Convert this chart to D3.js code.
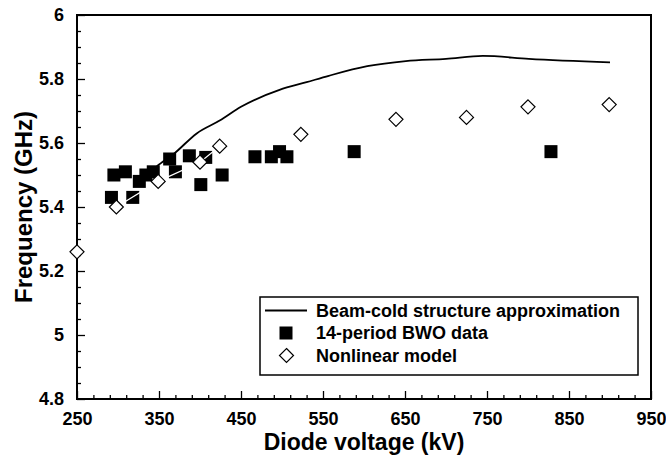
<!DOCTYPE html>
<html>
<head>
<meta charset="utf-8">
<script src="https://cdn.jsdelivr.net/npm/d3@7"></script>
<style>
  html, body { margin: 0; padding: 0; background: #fff; }
  svg { display: block; font-family: "Liberation Sans", Arial, Helvetica, sans-serif; font-weight: bold; }
</style>
</head>
<body>
<svg id="chart" width="666" height="464"></svg>
<script>
// ---- data ----
const xTicks = [250, 350, 450, 550, 650, 750, 850, 950];
const yTicks = [4.8, 5.0, 5.2, 5.4, 5.6, 5.8, 6.0];

// Beam-cold structure approximation (curve)
const curveV = [340, 347, 369, 396, 424, 450, 497, 530, 557, 604, 651, 700, 745, 801, 900];
const curveF = [5.51, 5.526, 5.568, 5.63, 5.67, 5.713, 5.766, 5.79, 5.81, 5.84, 5.856, 5.863, 5.872, 5.863, 5.852];

// 14-period BWO data (filled squares)
const bwoV = [292, 295, 309, 318, 326, 334, 343, 363, 370, 387, 401, 407, 427, 467, 487, 497, 506, 588, 828];
const bwoF = [5.43, 5.50, 5.51, 5.43, 5.48, 5.50, 5.51, 5.55, 5.51, 5.56, 5.47, 5.555, 5.50, 5.557, 5.557, 5.573, 5.557, 5.573, 5.573];

// Nonlinear model (open diamonds)
const nlV = [250, 298, 349, 400, 424, 523, 639, 725, 800, 899];
const nlF = [5.26, 5.40, 5.48, 5.54, 5.59, 5.627, 5.674, 5.68, 5.713, 5.72];

const legendLabels = ["Beam-cold structure approximation", "14-period BWO data", "Nonlinear model"];

// ---- layout ----
const svg = d3.select("#chart");
const L = 77, R = 651, T = 15, B = 399;
const x = d3.scaleLinear().domain([250, 950]).range([L, R]);
const y = d3.scaleLinear().domain([4.8, 6.0]).range([B, T]);

// minor ticks
const xMinor = d3.range(250, 951, 20).filter(v => (v - 250) % 100 !== 0);
const yMinor = d3.range(0, 25).map(i => +(4.8 + i * 0.05).toFixed(2)).filter(v => Math.round(v * 100) % 20 !== 0);

// x axis (ticks pointing inward)
const gx = svg.append("g").attr("transform", `translate(0,${B})`);
gx.call(d3.axisBottom(x).tickValues(xMinor).tickSizeInner(-4).tickSizeOuter(0).tickFormat(""));
const gx2 = svg.append("g").attr("transform", `translate(0,${B})`);
gx2.call(d3.axisBottom(x).tickValues(xTicks).tickSizeInner(-8).tickSizeOuter(0).tickPadding(13).tickFormat(d3.format("d")));

const gy = svg.append("g").attr("transform", `translate(${L},0)`);
gy.call(d3.axisLeft(y).tickValues(yMinor).tickSizeInner(-4).tickSizeOuter(0).tickFormat(""));
const gy2 = svg.append("g").attr("transform", `translate(${L},0)`);
gy2.call(d3.axisLeft(y).tickValues(yTicks).tickSizeInner(-8).tickSizeOuter(0).tickPadding(13).tickFormat(d => String(+d.toFixed(1))));

[gx, gx2, gy, gy2].forEach(g => {
  g.select(".domain").remove();
  g.selectAll(".tick line").attr("stroke", "#000").attr("stroke-width", 1.3);
  g.selectAll(".tick text").attr("fill", "#000").attr("font-size", 18).attr("font-weight", "bold")
    .attr("font-family", "'Liberation Sans', Arial, sans-serif");
});
gx2.selectAll(".tick text").attr("dy", "0.71em");

// frame
svg.append("rect").attr("x", L).attr("y", T).attr("width", R - L).attr("height", B - T)
  .attr("fill", "none").attr("stroke", "#000").attr("stroke-width", 2);

// axis titles
svg.append("text").attr("x", (L + R) / 2).attr("y", 450).attr("text-anchor", "middle")
  .attr("font-size", 23).attr("fill", "#000").text("Diode voltage (kV)");
svg.append("text").attr("transform", `translate(32,${(T + B) / 2}) rotate(-90)`).attr("text-anchor", "middle")
  .attr("font-size", 24).attr("fill", "#000").text("Frequency (GHz)");

// curve
const curveData = curveV.map((v, i) => [v, curveF[i]]);
svg.append("path").datum(curveData)
  .attr("d", d3.line().x(d => x(d[0])).y(d => y(d[1])).curve(d3.curveMonotoneX))
  .attr("fill", "none").attr("stroke", "#000").attr("stroke-width", 1.8);

// squares
const sq = 13;
svg.append("g").selectAll("rect").data(bwoV.map((v, i) => [v, bwoF[i]])).join("rect")
  .attr("x", d => x(d[0]) - sq / 2).attr("y", d => y(d[1]) - sq / 2)
  .attr("width", sq).attr("height", sq).attr("fill", "#000");

// thin white line linking low-voltage model points (visible across squares)
const nlLow = nlV.map((v, i) => [v, nlF[i]]).filter(d => d[0] >= 290 && d[0] <= 430);
svg.append("path").datum(nlLow)
  .attr("d", d3.line().x(d => x(d[0])).y(d => y(d[1])))
  .attr("fill", "none").attr("stroke", "#fff").attr("stroke-width", 1.2);

// diamonds
const dm = 7;
const diamond = (cx, cy, r) => `M${cx},${cy - r}L${cx + r},${cy}L${cx},${cy + r}L${cx - r},${cy}Z`;
svg.append("g").selectAll("path").data(nlV.map((v, i) => [v, nlF[i]])).join("path")
  .attr("d", d => diamond(x(d[0]), y(d[1]), dm))
  .attr("fill", "#fff").attr("stroke", "#000").attr("stroke-width", 1.2);

// legend
const lg = svg.append("g");
lg.append("rect").attr("x", 260).attr("y", 297).attr("width", 378).attr("height", 78)
  .attr("fill", "#fff").attr("stroke", "#000").attr("stroke-width", 1.5);
const rowY = [310.5, 333, 355.5];
lg.append("line").attr("x1", 265).attr("x2", 307).attr("y1", rowY[0]).attr("y2", rowY[0])
  .attr("stroke", "#000").attr("stroke-width", 1.8);
lg.append("rect").attr("x", 286 - 6.5).attr("y", rowY[1] - 6.5).attr("width", 13).attr("height", 13).attr("fill", "#000");
lg.append("path").attr("d", diamond(286.5, rowY[2], 7)).attr("fill", "#fff").attr("stroke", "#000").attr("stroke-width", 1.2);
lg.selectAll("text.lab").data(legendLabels).join("text").attr("class", "lab")
  .attr("x", 316).attr("y", (d, i) => rowY[i]).attr("dy", "0.36em")
  .attr("font-size", 18).attr("fill", "#000").text(d => d);
</script>
</body>
</html>
